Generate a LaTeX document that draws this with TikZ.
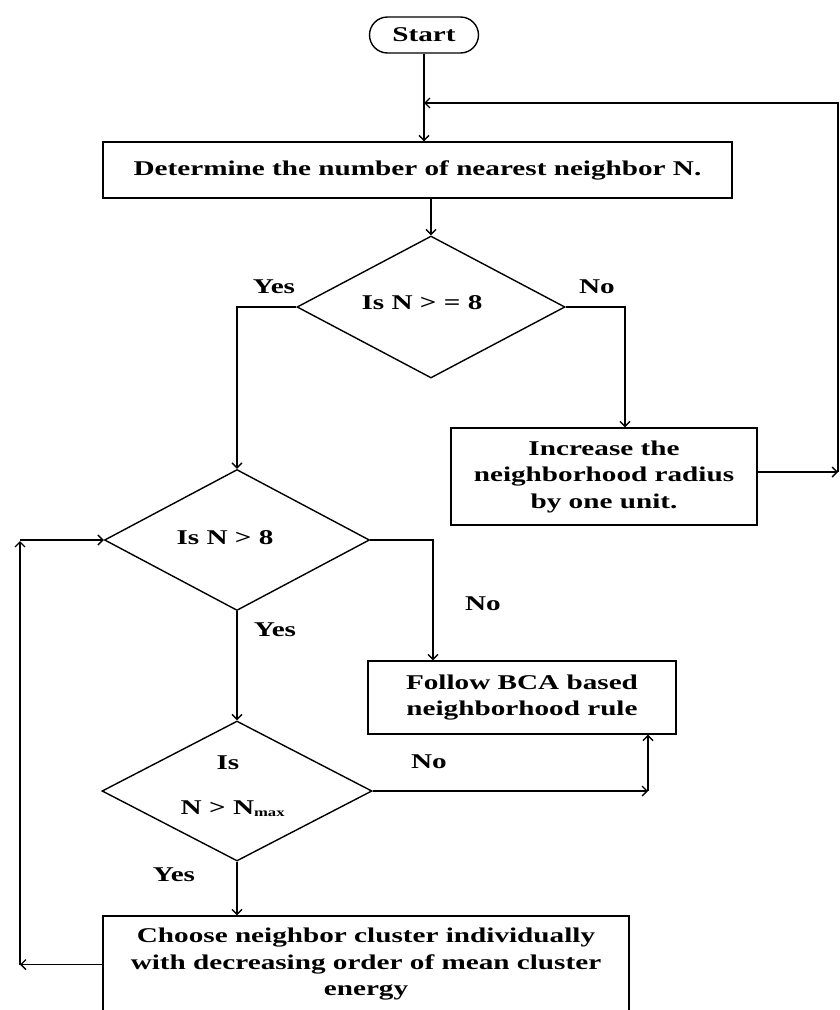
\documentclass[tikz,border=0pt]{standalone}
\usepackage{fontspec}
\setmainfont{Liberation Serif}[FakeStretch=1.39]
\usetikzlibrary{shapes.geometric,arrows.meta}
\begin{document}
\begin{tikzpicture}[x=1pt,y=-1pt,line width=1.4pt,
  font=\fontsize{21}{26.5}\selectfont\bfseries,
  box/.style={draw,rectangle,inner sep=0pt,align=center},
  dia/.style={draw,diamond,inner sep=0pt},
  lbl/.style={inner sep=0pt},
  arr/.style={-{Straight Barb[length=5pt,width=10pt]}}]
\useasboundingbox (0,0) rectangle (840,1010);
\clip (0,0) rectangle (840,1010);
\fill[white] (0,0) rectangle (840,1010);
% nodes
\node[box,rounded corners=18pt,minimum width=109pt,minimum height=36pt] (start) at (424,35) {Start};
\node[box,minimum width=629pt,minimum height=56pt] (det) at (417.5,170) {Determine the number of nearest neighbor N.};
\node[dia,minimum width=268pt,minimum height=142pt] (d1) at (431,307) {};
\node[lbl] (t1) at (422,303) {Is N > = 8};
\node[box,minimum width=306pt,minimum height=97pt] (inc) at (604,476.5) {Increase the\\neighborhood radius\\by one unit.};
\node[dia,minimum width=265pt,minimum height=141pt] (d2) at (237,540) {};
\node[lbl] (t2) at (225,538) {Is N > 8};
\node[box,minimum width=308pt,minimum height=73pt] (fol) at (522,697.5) {Follow BCA based\\neighborhood rule};
\node[dia,minimum width=270pt,minimum height=140pt] (d3) at (237,791) {};
\node[lbl] (t3a) at (228,763) {Is};
\node[lbl,anchor=base west] (t3b) at (180,814) {N > N\raisebox{-2pt}{\fontsize{12}{12}\selectfont max}};
\node[box,minimum width=526pt,minimum height=97pt] (cho) at (366,964.5) {Choose neighbor cluster individually\\with decreasing order of mean cluster\\energy};
% labels
\node[lbl] (y1) at (274,287) {Yes};
\node[lbl] (n1) at (597,287) {No};
\node[lbl] (n2) at (483,604) {No};
\node[lbl] (y2) at (275,630) {Yes};
\node[lbl] (n3) at (429,762) {No};
\node[lbl] (y3) at (174,875) {Yes};
% helper coordinates
\coordinate (fb) at (424,103);
\coordinate (rc) at (838,472);
\coordinate (lc) at (20,964.5);
\coordinate (lt) at (20,541);
\coordinate (lt2) at (20,540);
\coordinate (rb) at (648,791);
% connectors
\draw[arr] (start.south) -- (start.south |- det.north);
\draw[arr] (rc -| inc.east) -- (rc);
\draw[arr] (rc) |- (fb);
\draw[arr] (d1.north |- det.south) -- (d1.north);
\draw[arr] (d1.east) -| ([xshift=21pt]inc.north);
\draw[arr] (d1.west) -| (d2.north);
\draw[arr] (d2.east) -| ([xshift=-89pt]fol.north);
\draw[arr] (d2.south) -- (d3.north);
\draw[arr] (d3.east) -- (rb);
\draw[arr] (rb) -- (rb |- fol.south);
\draw[arr] (d3.south) -- (d3.south |- cho.north);
\draw[arr] (cho.west) -- (lc);
\draw[arr] (lc) -- (lt);
\draw[arr] (lt2) -- (d2.west);
\end{tikzpicture}
\end{document}
